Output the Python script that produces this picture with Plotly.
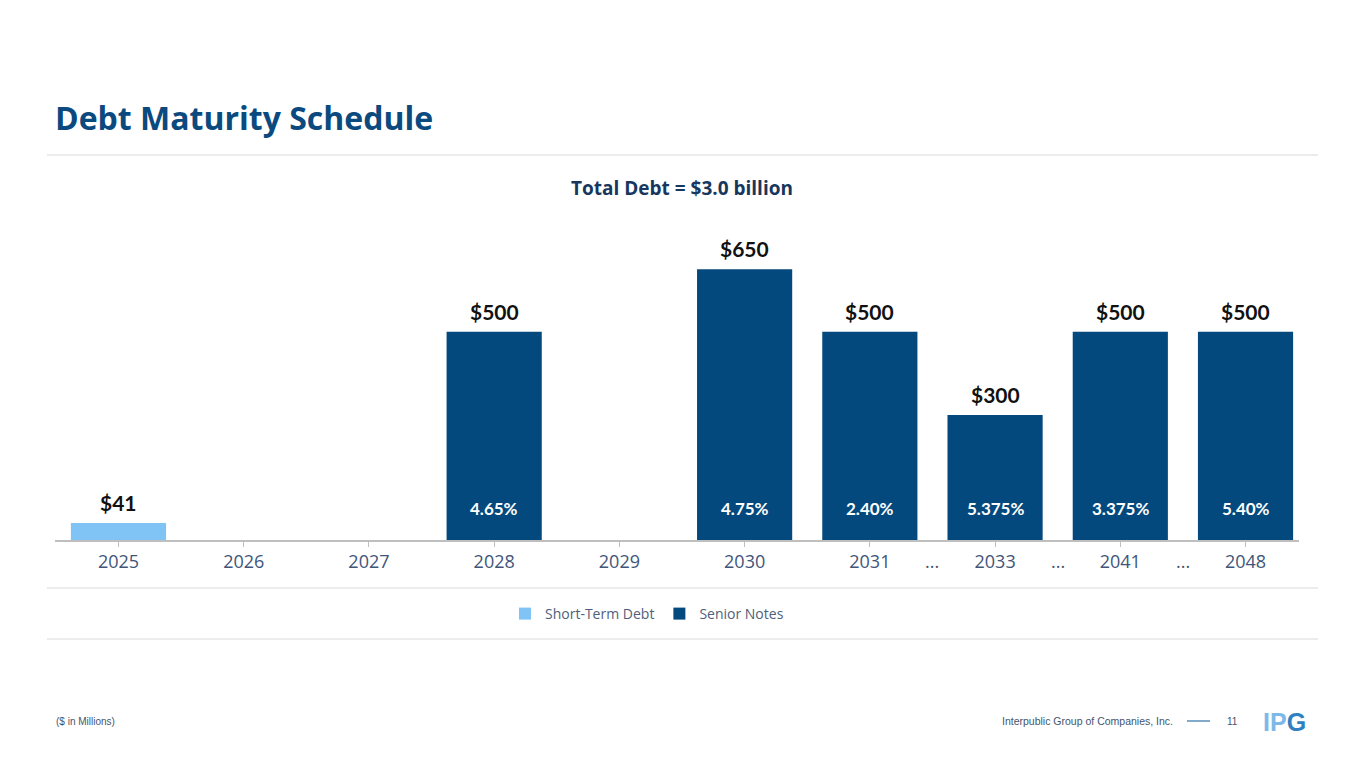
import plotly.graph_objects as go

years = ["2025", "2026", "2027", "2028", "2029", "2030", "2031", "2033", "2041", "2048"]
short_term = [41, None, None, None, None, None, None, None, None, None]
senior_notes = [None, None, None, 500, None, 650, 500, 300, 500, 500]
rates = [None, None, None, "4.65%", None, "4.75%", "2.40%", "5.375%", "3.375%", "5.40%"]
gap_positions = [6.5, 7.5, 8.5]

LIGHT = "#80C4F6"
DARK = "#03497D"
NAVY = "#0B4A7F"
GRID = "#D9D9D9"

L, R, T, B = 55, 66, 230, 228
W, H = 1365, 768


def px_x(px):
    return (px - L) / (W - L - R)


def px_y(py):
    return (H - B - py) / (H - B - T)


fig = go.Figure()
fig.add_trace(go.Bar(x=years, y=short_term, name="Short-Term Debt", marker_color=LIGHT,
                     marker_line_width=0))
fig.add_trace(go.Bar(x=years, y=senior_notes, name="Senior Notes", marker_color=DARK,
                     marker_line_width=0))

annotations = []
for i, (yr, s, n, r) in enumerate(zip(years, short_term, senior_notes, rates)):
    v = s if s is not None else n
    if v is not None:
        annotations.append(dict(x=i, y=v, xref="x", yref="y", text=f"<b>${v:,}</b>",
                                showarrow=False, yanchor="bottom", yshift=6,
                                font=dict(family="Lato", size=21, color="#111111")))
    if r is not None:
        annotations.append(dict(x=i, y=0, xref="x", yref="y", text=f"<b>{r}</b>",
                                showarrow=False, yanchor="middle", yshift=32,
                                font=dict(family="Lato", size=17, color="white")))
for gx in gap_positions:
    annotations.append(dict(x=gx, y=0, xref="x", yref="y", text="...", showarrow=False,
                            yanchor="middle", yshift=-21,
                            font=dict(family="Open Sans", size=18, color="#44546A")))

annotations += [
    dict(x=px_x(53), y=px_y(118), xref="paper", yref="paper", text="<b>Debt Maturity Schedule</b>",
         showarrow=False, xanchor="left", yanchor="middle",
         font=dict(family="Open Sans", size=32, color=NAVY)),
    dict(x=px_x(682), y=px_y(188), xref="paper", yref="paper",
         text="<b>Total Debt = $3.0 billion</b>", showarrow=False, xanchor="center",
         yanchor="middle", font=dict(family="Open Sans", size=19, color="#17375E")),
    dict(x=px_x(54), y=px_y(721), xref="paper", yref="paper",
         text="($ in Millions)", showarrow=False, xanchor="left", yanchor="middle",
         font=dict(family="Liberation Sans", size=10, color="#44546A")),
    dict(x=px_x(1175), y=px_y(721), xref="paper", yref="paper",
         text="Interpublic Group of Companies, Inc.", showarrow=False, xanchor="right",
         yanchor="middle", font=dict(family="Liberation Sans", size=10.5, color="#44546A")),
    dict(x=px_x(1232), y=px_y(721), xref="paper", yref="paper",
         text="11", showarrow=False, xanchor="center", yanchor="middle",
         font=dict(family="Liberation Sans", size=10, color="#44546A")),
    dict(x=px_x(1284), y=px_y(722), xref="paper", yref="paper",
         text="<b><span style='color:#7DB9E8'>IP</span><span style='color:#2F7FC1'>G</span></b>",
         showarrow=False, xanchor="center", yanchor="middle",
         font=dict(family="Liberation Sans", size=25, color="#2F7FC1")),
]

shapes = []
for py in [155, 588, 639]:
    shapes.append(dict(type="line", xref="paper", yref="paper",
                       x0=px_x(47), x1=px_x(1318), y0=px_y(py), y1=px_y(py),
                       line=dict(color=GRID, width=1)))
shapes.append(dict(type="line", xref="paper", yref="paper",
                   x0=px_x(1187), x1=px_x(1210), y0=px_y(721), y1=px_y(721),
                   line=dict(color="#2F6FA8", width=1.2)))

fig.update_layout(
    width=W, height=H,
    margin=dict(l=L, r=R, t=T, b=B),
    paper_bgcolor="white", plot_bgcolor="white",
    barmode="overlay", bargap=0.24,
    showlegend=True,
    legend=dict(orientation="h", x=px_x(647), xanchor="center", y=px_y(614), yanchor="middle",
                font=dict(family="Open Sans", size=14, color="#50607A"),
                traceorder="normal"),
    xaxis=dict(type="category", showgrid=False, showline=True, linecolor="#BFBFBF",
               linewidth=1.5, ticks="outside", ticklen=5, tickcolor="#BFBFBF",
               tickfont=dict(family="Open Sans", size=18, color="#41557A"),
               range=[-0.507, 9.427]),
    yaxis=dict(range=[0, 744], visible=False, showgrid=False, zeroline=False),
    annotations=annotations,
    shapes=shapes,
)

fig.write_html("out.html", config={"displayModeBar": False},
               post_script="document.body.style.margin='0';document.body.style.overflow='hidden';")
